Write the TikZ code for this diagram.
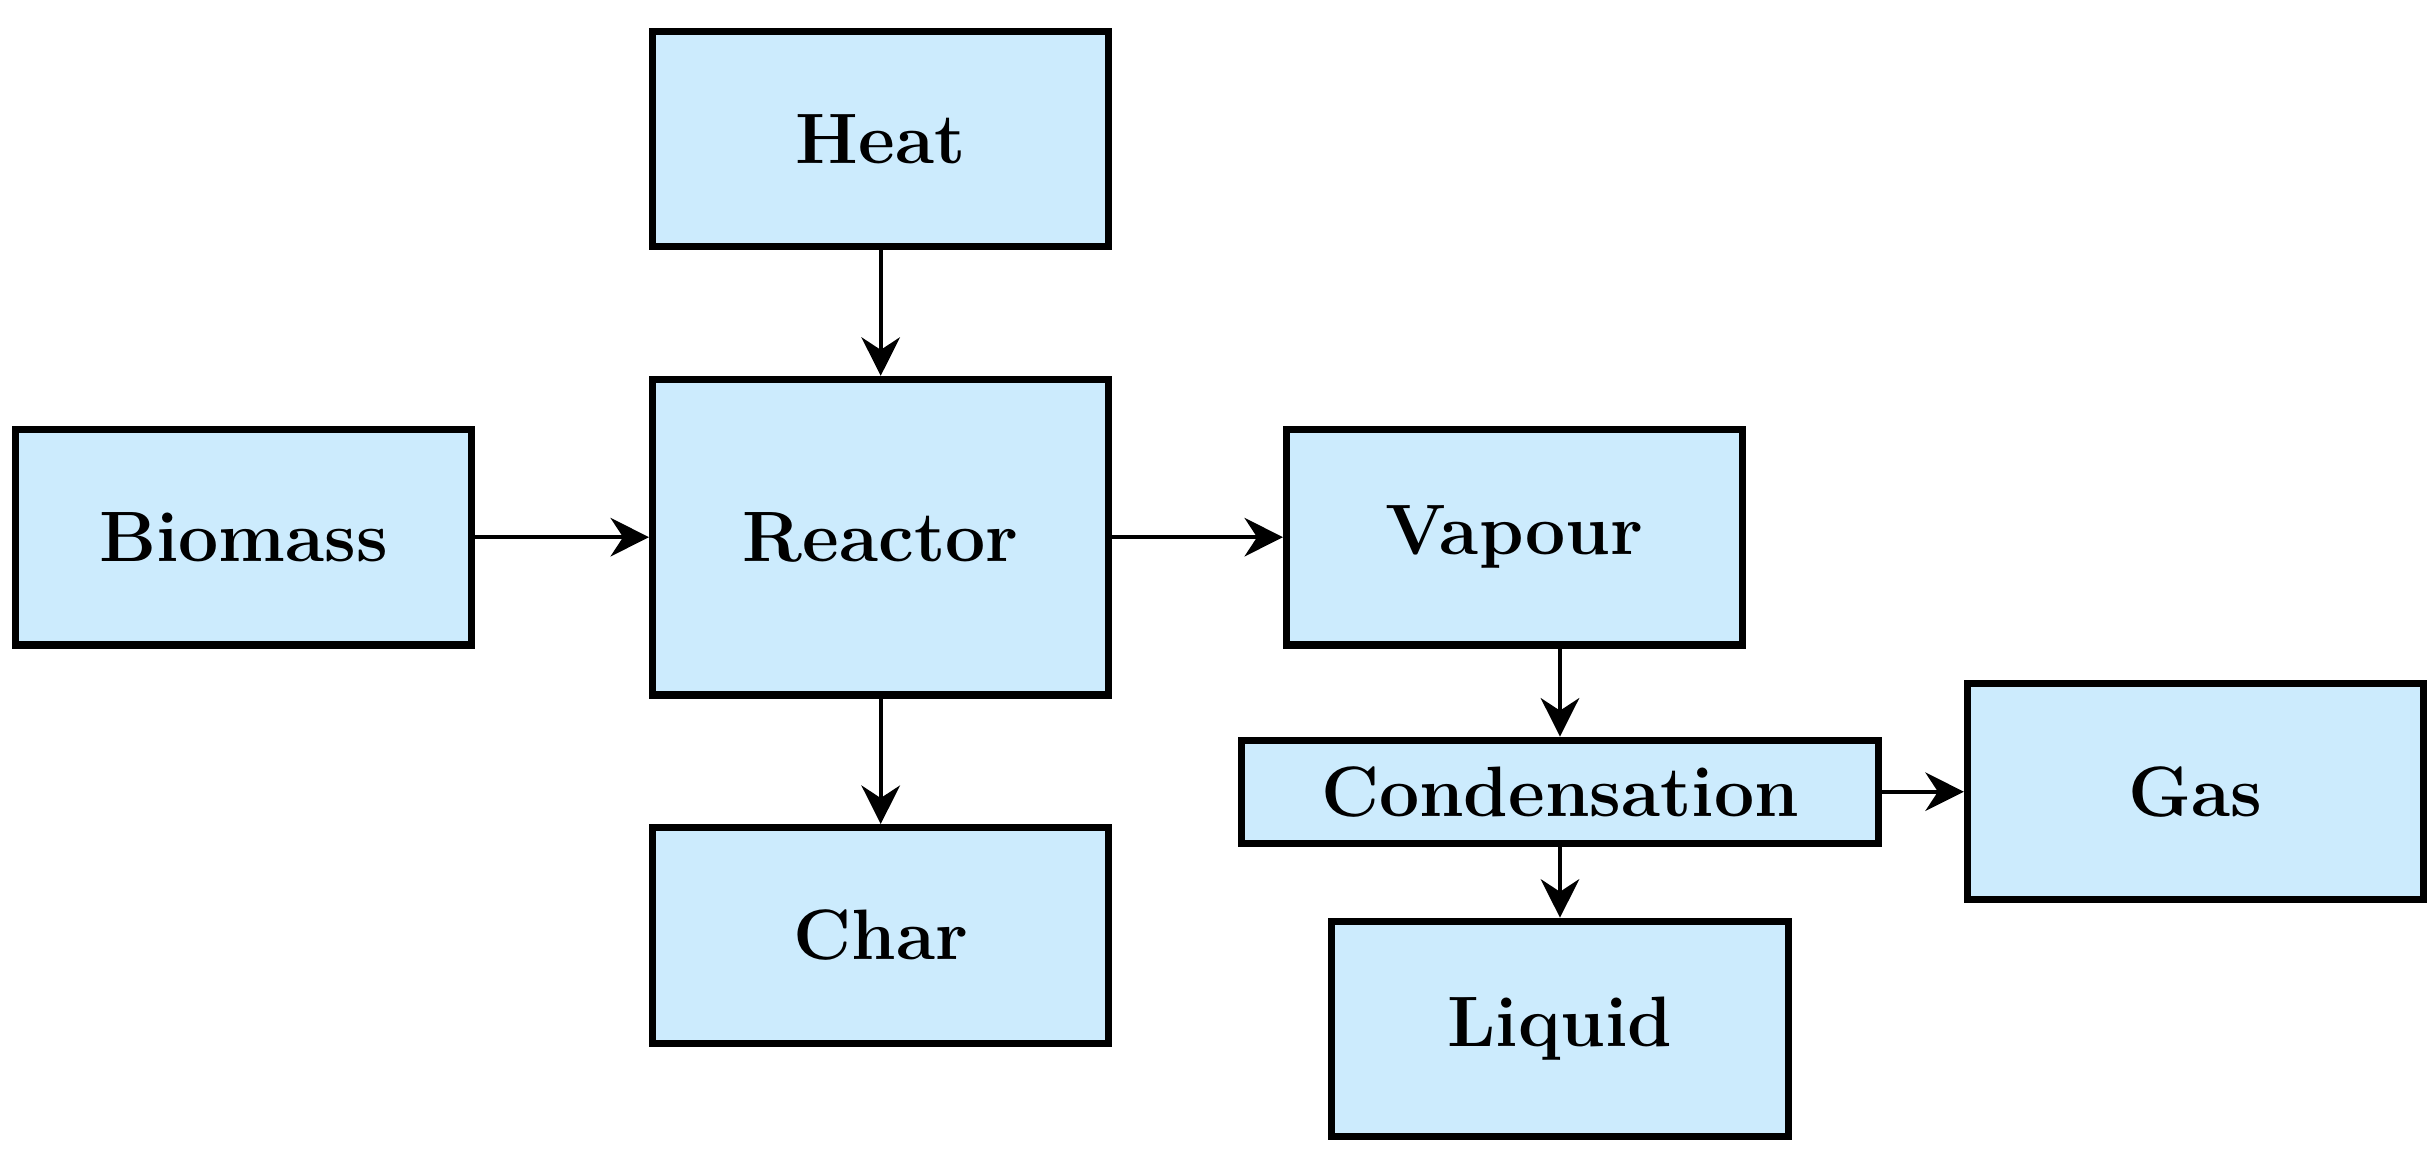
\documentclass[tikz,border=0pt]{standalone}
\usepackage{xcolor}
\usepackage{tikz}
\usetikzlibrary{arrows.meta, positioning}
\definecolor{boxblue}{HTML}{CCEBFD}

\begin{document}
\begin{tikzpicture}[auto, x=0.01cm, y=-0.01cm, >=Stealth,
    block/.style={draw, rectangle, fill=boxblue, line width=1.3pt, inner sep=0pt,
      minimum width=2.92cm, minimum height=1.38cm, font=\fontsize{13}{15}\selectfont\bfseries},
    flow/.style={->, line width=0.8pt, >={Stealth[length=7pt, width=7pt]}}]
    \useasboundingbox (0,0) rectangle (1560,739);

    \node[block] (heat) at (564,89) {Heat};
    \node[block, minimum height=2.02cm] (reactor) at (564,344) {Reactor};
    \node[block] (biomass) at (156,344) {Biomass};
    \node[block] (vapour) at (970,344) {Vapour};
    \node[block, minimum width=4.08cm, minimum height=0.66cm] (condensation) at (999,507) {Condensation};
    \node[block] (gas) at (1406,507) {Gas};
    \node[block] (char) at (564,599) {Char};
    \node[block] (liquid) at (999,659) {Liquid};

    % main flow
    \draw[flow] (heat) -- (reactor);
    \draw[flow] (biomass.east) -- (biomass.east -| reactor.west);
    \draw[flow] (reactor.east |- vapour.west) -- (vapour.west);
    \draw[flow] (reactor) -- (char);

    % products
    \draw[flow] (vapour.south -| condensation) -- (condensation);
    \draw[flow] (condensation) -- (gas.west |- condensation);
    \draw[flow] (condensation) -- (liquid);
  \end{tikzpicture}
\end{document}
